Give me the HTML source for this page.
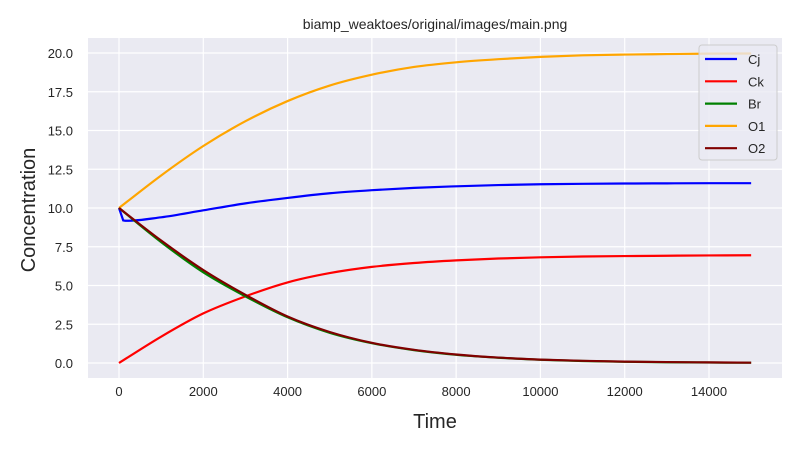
<!DOCTYPE html>
<html><head><meta charset="utf-8"><style>
body{margin:0;background:#fff;}
svg{font-family:"Liberation Sans","DejaVu Sans",sans-serif;}
</style></head><body>
<svg id="chart" width="800" height="450">
<rect x="0" y="0" width="800" height="450" fill="#fff"/>
<text x="435" y="29" text-anchor="middle" font-size="14" fill="#262626">biamp_weaktoes/original/images/main.png</text>
<rect x="88" y="38" width="694" height="340" fill="#eaeaf2"/>
<g id="grid"></g><g id="ticks"></g><g id="series"></g>
<text x="435" y="428" text-anchor="middle" font-size="20" fill="#262626">Time</text>
<text transform="translate(35,210) rotate(-90)" text-anchor="middle" font-size="20" fill="#262626">Concentration</text>
<g id="legend"></g>
</svg>
<script>
const times=[0,1000,2000,3000,4000,5000,6000,7000,8000,9000,10000,11000,12000,13000,14000,15000];
const cjTimes=[0,100,1000,2000,3000,4000,5000,6000,7000,8000,9000,10000,11000,12000,13000,14000,15000];
const cjValues=[10,9.2,9.4,9.85,10.3,10.65,10.95,11.15,11.3,11.4,11.48,11.53,11.56,11.58,11.59,11.6,11.6];
const ckValues=[0,1.7,3.2,4.3,5.2,5.8,6.2,6.45,6.62,6.74,6.82,6.87,6.9,6.92,6.94,6.95];
const brValues=[10,7.8,5.85,4.3,2.95,1.95,1.28,0.83,0.53,0.34,0.21,0.13,0.08,0.05,0.03,0.02];
const o1Values=[10,12.1,14.0,15.6,16.9,17.9,18.6,19.1,19.4,19.6,19.75,19.85,19.9,19.93,19.96,19.97];
const o2Values=[10,7.9,6.0,4.4,3.0,2.0,1.3,0.85,0.55,0.35,0.22,0.14,0.09,0.06,0.04,0.02];
const xTicks=[0,2000,4000,6000,8000,10000,12000,14000];
const yTicks=[0,2.5,5,7.5,10,12.5,15,17.5,20];
const yTickLabels=["0.0","2.5","5.0","7.5","10.0","12.5","15.0","17.5","20.0"];
const seriesNames=["Cj","Ck","Br","O1","O2"];
const seriesColors=["#0000ff","#ff0000","#008000","#ffa500","#800000"];
const NS="http://www.w3.org/2000/svg";
const X=t=>119+t*(590/14000);
const Y=v=>363-v*15.5;
function mk(tag,attrs,parent){const e=document.createElementNS(NS,tag);for(const k in attrs)e.setAttribute(k,attrs[k]);parent.appendChild(e);return e;}
const grid=document.getElementById('grid'),ticks=document.getElementById('ticks');
xTicks.forEach(t=>{
 const l=mk('line',{x1:X(t),x2:X(t),y1:38,y2:378,stroke:'#fff','stroke-width':1.2},grid);
 
 
 const tx=mk('text',{x:X(t),y:396,'text-anchor':'middle','font-size':13,fill:'#262626'},ticks);
 tx.textContent=t;
 
 
});
yTicks.forEach((v,i)=>{
 const l=mk('line',{x1:88,x2:782,y1:Y(v),y2:Y(v),stroke:'#fff','stroke-width':1.2},grid);
 
 
 const tx=mk('text',{x:73,y:Y(v)+5,'text-anchor':'end','font-size':13,fill:'#262626'},ticks);
 tx.textContent=yTickLabels[i];
 
 
});
const data=[[cjTimes,cjValues],[times,ckValues],[times,brValues],[times,o1Values],[times,o2Values]];
const sg=document.getElementById('series');
function smoothPath(ts,vs){
 const p=ts.map((t,i)=>[X(t),Y(vs[i])]);
 let d='M'+p[0][0]+','+p[0][1];
 for(let i=0;i<p.length-1;i++){
  const p0=p[Math.max(i-1,0)],p1=p[i],p2=p[i+1],p3=p[Math.min(i+2,p.length-1)];
  const k=(i===0&&ts===cjTimes)?0:1/6;
  const c1=[p1[0]+(p2[0]-p0[0])*k,p1[1]+(p2[1]-p0[1])*k];
  const c2=[p2[0]-(p3[0]-p1[0])*k,p2[1]-(p3[1]-p1[1])*k];
  d+=` C${c1[0]},${c1[1]} ${c2[0]},${c2[1]} ${p2[0]},${p2[1]}`;
 }
 return d;
}
data.forEach((s,i)=>{
 const p=mk('path',{d:smoothPath(s[0],s[1]),fill:'none',stroke:seriesColors[i],'stroke-width':2.2},sg);
 
 
});
const lg=document.getElementById('legend');
mk('rect',{x:699,y:45,width:78,height:115,rx:3,fill:'#eaeaf2',stroke:'#ccc','fill-opacity':0.8},lg);
seriesNames.forEach((n,i)=>{
 const y=59+i*22.3;
 const l=mk('line',{x1:705,x2:737,y1:y,y2:y,stroke:seriesColors[i],'stroke-width':2.2},lg);
 
 
 const t=mk('text',{x:748,y:y+5,'font-size':13,fill:'#262626'},lg);
 t.textContent=n;
 
 
});
</script>
</body></html>
